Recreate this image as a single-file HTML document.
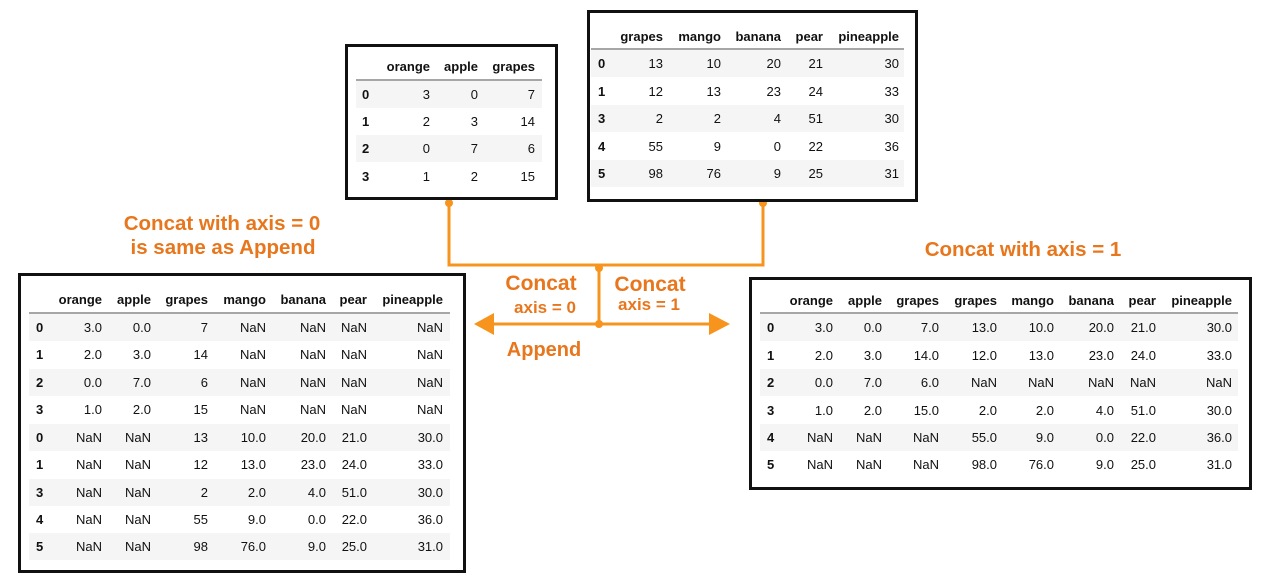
<!DOCTYPE html>
<html><head><meta charset="utf-8"><style>
html,body{margin:0;padding:0;background:#fff;width:1280px;height:585px;overflow:hidden}
svg{display:block}
text{font-family:"Liberation Sans",Arial,sans-serif;font-size:13px;fill:#111}
.h{font-weight:bold}
.i{font-weight:bold}
.r{text-anchor:end}
.o{fill:#e8761c;font-weight:bold;text-anchor:middle}
</style></head><body>
<svg width="1280" height="585" viewBox="0 0 1280 585">
<g stroke="#f7941d" stroke-width="3" fill="none">
<polyline points="449,203 449,265 763,265 763,203"/>
<line x1="599" y1="267" x2="599" y2="324"/>
<line x1="490" y1="324" x2="712" y2="324"/>
</g>
<g fill="#f7941d">
<circle cx="449" cy="203" r="4"/><circle cx="763" cy="203" r="4"/>
<circle cx="599" cy="268" r="4"/><circle cx="599" cy="324" r="4"/>
<polygon points="474,324 494,313 494,335"/>
<polygon points="730,324 709,313 709,335"/>
</g>
<text class="o" x="222" y="230" style="font-size:20.5px">Concat with axis = 0</text>
<text class="o" x="223" y="254" style="font-size:20.5px">is same as Append</text>
<text class="o" x="1023" y="256" style="font-size:20.5px">Concat with axis = 1</text>
<text class="o" x="541" y="290" style="font-size:21px">Concat</text>
<text class="o" x="545" y="313" style="font-size:17px">axis = 0</text>
<text class="o" x="650" y="291" style="font-size:21px">Concat</text>
<text class="o" x="649" y="310" style="font-size:17px">axis = 1</text>
<text class="o" x="544" y="356" style="font-size:20px">Append</text>

<!-- T1 -->
<rect x="346.5" y="45.5" width="210" height="153" fill="#fff" stroke="#111" stroke-width="3"/>
<g fill="#f5f5f5"><rect x="356" y="81" width="186" height="27"/><rect x="356" y="135" width="186" height="27"/></g>
<line x1="356" y1="80" x2="542" y2="80" stroke="#888" stroke-width="1.5"/>
<text class="h r" x="430" y="71">orange</text><text class="h r" x="478" y="71">apple</text><text class="h r" x="535" y="71">grapes</text>
<text class="i" x="362" y="99">0</text><text class="r" x="430" y="99">3</text><text class="r" x="478" y="99">0</text><text class="r" x="535" y="99">7</text>
<text class="i" x="362" y="126">1</text><text class="r" x="430" y="126">2</text><text class="r" x="478" y="126">3</text><text class="r" x="535" y="126">14</text>
<text class="i" x="362" y="153">2</text><text class="r" x="430" y="153">0</text><text class="r" x="478" y="153">7</text><text class="r" x="535" y="153">6</text>
<text class="i" x="362" y="181">3</text><text class="r" x="430" y="181">1</text><text class="r" x="478" y="181">2</text><text class="r" x="535" y="181">15</text>

<!-- T2 -->
<rect x="588.5" y="11.5" width="328" height="189" fill="#fff" stroke="#111" stroke-width="3"/>
<g fill="#f5f5f5"><rect x="591" y="50" width="313" height="27"/><rect x="591" y="105" width="313" height="27"/><rect x="591" y="160" width="313" height="27"/></g>
<line x1="591" y1="49" x2="904" y2="49" stroke="#888" stroke-width="1.5"/>
<text class="h r" x="663" y="41">grapes</text><text class="h r" x="721" y="41">mango</text><text class="h r" x="781" y="41">banana</text><text class="h r" x="823" y="41">pear</text><text class="h r" x="899" y="41">pineapple</text>
<text class="i" x="598" y="68">0</text><text class="r" x="663" y="68">13</text><text class="r" x="721" y="68">10</text><text class="r" x="781" y="68">20</text><text class="r" x="823" y="68">21</text><text class="r" x="899" y="68">30</text>
<text class="i" x="598" y="96">1</text><text class="r" x="663" y="96">12</text><text class="r" x="721" y="96">13</text><text class="r" x="781" y="96">23</text><text class="r" x="823" y="96">24</text><text class="r" x="899" y="96">33</text>
<text class="i" x="598" y="123">3</text><text class="r" x="663" y="123">2</text><text class="r" x="721" y="123">2</text><text class="r" x="781" y="123">4</text><text class="r" x="823" y="123">51</text><text class="r" x="899" y="123">30</text>
<text class="i" x="598" y="151">4</text><text class="r" x="663" y="151">55</text><text class="r" x="721" y="151">9</text><text class="r" x="781" y="151">0</text><text class="r" x="823" y="151">22</text><text class="r" x="899" y="151">36</text>
<text class="i" x="598" y="178">5</text><text class="r" x="663" y="178">98</text><text class="r" x="721" y="178">76</text><text class="r" x="781" y="178">9</text><text class="r" x="823" y="178">25</text><text class="r" x="899" y="178">31</text>

<!-- T3 -->
<rect x="19.5" y="274.5" width="445" height="297" fill="#fff" stroke="#111" stroke-width="3"/>
<g fill="#f5f5f5"><rect x="29" y="314" width="421" height="27"/><rect x="29" y="369" width="421" height="27"/><rect x="29" y="424" width="421" height="27"/><rect x="29" y="479" width="421" height="27"/><rect x="29" y="533" width="421" height="27"/></g>
<line x1="29" y1="313" x2="450" y2="313" stroke="#888" stroke-width="1.5"/>
<text class="h r" x="102" y="304">orange</text><text class="h r" x="151" y="304">apple</text><text class="h r" x="208" y="304">grapes</text><text class="h r" x="266" y="304">mango</text><text class="h r" x="326" y="304">banana</text><text class="h r" x="367" y="304">pear</text><text class="h r" x="443" y="304">pineapple</text>
<text class="i" x="36" y="332">0</text><text class="r" x="102" y="332">3.0</text><text class="r" x="151" y="332">0.0</text><text class="r" x="208" y="332">7</text><text class="r" x="266" y="332">NaN</text><text class="r" x="326" y="332">NaN</text><text class="r" x="367" y="332">NaN</text><text class="r" x="443" y="332">NaN</text>
<text class="i" x="36" y="359">1</text><text class="r" x="102" y="359">2.0</text><text class="r" x="151" y="359">3.0</text><text class="r" x="208" y="359">14</text><text class="r" x="266" y="359">NaN</text><text class="r" x="326" y="359">NaN</text><text class="r" x="367" y="359">NaN</text><text class="r" x="443" y="359">NaN</text>
<text class="i" x="36" y="387">2</text><text class="r" x="102" y="387">0.0</text><text class="r" x="151" y="387">7.0</text><text class="r" x="208" y="387">6</text><text class="r" x="266" y="387">NaN</text><text class="r" x="326" y="387">NaN</text><text class="r" x="367" y="387">NaN</text><text class="r" x="443" y="387">NaN</text>
<text class="i" x="36" y="414">3</text><text class="r" x="102" y="414">1.0</text><text class="r" x="151" y="414">2.0</text><text class="r" x="208" y="414">15</text><text class="r" x="266" y="414">NaN</text><text class="r" x="326" y="414">NaN</text><text class="r" x="367" y="414">NaN</text><text class="r" x="443" y="414">NaN</text>
<text class="i" x="36" y="442">0</text><text class="r" x="102" y="442">NaN</text><text class="r" x="151" y="442">NaN</text><text class="r" x="208" y="442">13</text><text class="r" x="266" y="442">10.0</text><text class="r" x="326" y="442">20.0</text><text class="r" x="367" y="442">21.0</text><text class="r" x="443" y="442">30.0</text>
<text class="i" x="36" y="469">1</text><text class="r" x="102" y="469">NaN</text><text class="r" x="151" y="469">NaN</text><text class="r" x="208" y="469">12</text><text class="r" x="266" y="469">13.0</text><text class="r" x="326" y="469">23.0</text><text class="r" x="367" y="469">24.0</text><text class="r" x="443" y="469">33.0</text>
<text class="i" x="36" y="497">3</text><text class="r" x="102" y="497">NaN</text><text class="r" x="151" y="497">NaN</text><text class="r" x="208" y="497">2</text><text class="r" x="266" y="497">2.0</text><text class="r" x="326" y="497">4.0</text><text class="r" x="367" y="497">51.0</text><text class="r" x="443" y="497">30.0</text>
<text class="i" x="36" y="524">4</text><text class="r" x="102" y="524">NaN</text><text class="r" x="151" y="524">NaN</text><text class="r" x="208" y="524">55</text><text class="r" x="266" y="524">9.0</text><text class="r" x="326" y="524">0.0</text><text class="r" x="367" y="524">22.0</text><text class="r" x="443" y="524">36.0</text>
<text class="i" x="36" y="551">5</text><text class="r" x="102" y="551">NaN</text><text class="r" x="151" y="551">NaN</text><text class="r" x="208" y="551">98</text><text class="r" x="266" y="551">76.0</text><text class="r" x="326" y="551">9.0</text><text class="r" x="367" y="551">25.0</text><text class="r" x="443" y="551">31.0</text>

<!-- T4 -->
<rect x="750.5" y="278.5" width="500" height="210" fill="#fff" stroke="#111" stroke-width="3"/>
<g fill="#f5f5f5"><rect x="760" y="314" width="478" height="27"/><rect x="760" y="369" width="478" height="27"/><rect x="760" y="424" width="478" height="27"/></g>
<line x1="760" y1="313" x2="1238" y2="313" stroke="#888" stroke-width="1.5"/>
<text class="h r" x="833" y="305">orange</text><text class="h r" x="882" y="305">apple</text><text class="h r" x="939" y="305">grapes</text><text class="h r" x="997" y="305">grapes</text><text class="h r" x="1054" y="305">mango</text><text class="h r" x="1114" y="305">banana</text><text class="h r" x="1156" y="305">pear</text><text class="h r" x="1232" y="305">pineapple</text>
<text class="i" x="767" y="332">0</text><text class="r" x="833" y="332">3.0</text><text class="r" x="882" y="332">0.0</text><text class="r" x="939" y="332">7.0</text><text class="r" x="997" y="332">13.0</text><text class="r" x="1054" y="332">10.0</text><text class="r" x="1114" y="332">20.0</text><text class="r" x="1156" y="332">21.0</text><text class="r" x="1232" y="332">30.0</text>
<text class="i" x="767" y="360">1</text><text class="r" x="833" y="360">2.0</text><text class="r" x="882" y="360">3.0</text><text class="r" x="939" y="360">14.0</text><text class="r" x="997" y="360">12.0</text><text class="r" x="1054" y="360">13.0</text><text class="r" x="1114" y="360">23.0</text><text class="r" x="1156" y="360">24.0</text><text class="r" x="1232" y="360">33.0</text>
<text class="i" x="767" y="387">2</text><text class="r" x="833" y="387">0.0</text><text class="r" x="882" y="387">7.0</text><text class="r" x="939" y="387">6.0</text><text class="r" x="997" y="387">NaN</text><text class="r" x="1054" y="387">NaN</text><text class="r" x="1114" y="387">NaN</text><text class="r" x="1156" y="387">NaN</text><text class="r" x="1232" y="387">NaN</text>
<text class="i" x="767" y="415">3</text><text class="r" x="833" y="415">1.0</text><text class="r" x="882" y="415">2.0</text><text class="r" x="939" y="415">15.0</text><text class="r" x="997" y="415">2.0</text><text class="r" x="1054" y="415">2.0</text><text class="r" x="1114" y="415">4.0</text><text class="r" x="1156" y="415">51.0</text><text class="r" x="1232" y="415">30.0</text>
<text class="i" x="767" y="442">4</text><text class="r" x="833" y="442">NaN</text><text class="r" x="882" y="442">NaN</text><text class="r" x="939" y="442">NaN</text><text class="r" x="997" y="442">55.0</text><text class="r" x="1054" y="442">9.0</text><text class="r" x="1114" y="442">0.0</text><text class="r" x="1156" y="442">22.0</text><text class="r" x="1232" y="442">36.0</text>
<text class="i" x="767" y="469">5</text><text class="r" x="833" y="469">NaN</text><text class="r" x="882" y="469">NaN</text><text class="r" x="939" y="469">NaN</text><text class="r" x="997" y="469">98.0</text><text class="r" x="1054" y="469">76.0</text><text class="r" x="1114" y="469">9.0</text><text class="r" x="1156" y="469">25.0</text><text class="r" x="1232" y="469">31.0</text>
</svg>
</body></html>
